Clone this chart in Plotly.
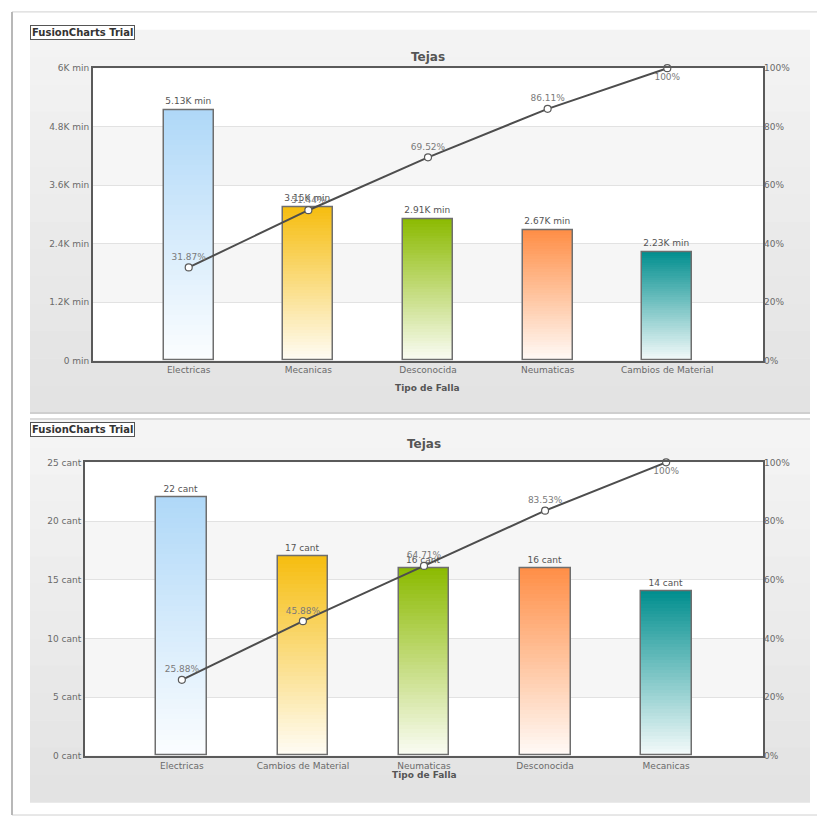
import plotly.graph_objects as go

# ---------------- data ----------------
cats_top = ["Electricas", "Mecanicas", "Desconocida", "Neumaticas", "Cambios de Material"]
vals_top = [5130, 3150, 2910, 2670, 2230]            # minutes
pct_top = [31.87, 51.44, 69.52, 86.11, 100]           # cumulative %

cats_bot = ["Electricas", "Cambios de Material", "Neumaticas", "Desconocida", "Mecanicas"]
vals_bot = [22, 17, 16, 16, 14]                       # count
pct_bot = [25.88, 45.88, 64.71, 83.53, 100]

ytick_top_vals = [0, 1200, 2400, 3600, 4800, 6000]
ytick_top_text = ["0 min", "1.2K min", "2.4K min", "3.6K min", "4.8K min", "6K min"]
ytick_bot_vals = [0, 5, 10, 15, 20, 25]
ytick_bot_text = ["0 cant", "5 cant", "10 cant", "15 cant", "20 cant", "25 cant"]
pct_ticks = [0, 20, 40, 60, 80, 100]

palette = ["#AFD8F8", "#F6BD0F", "#8BBA00", "#FF8E46", "#008E8E"]

W, H = 817, 822
FONT = "DejaVu Sans"


def px(x):
    return x / W


def py(y):
    return 1 - y / H


def hex2rgb(h):
    h = h.lstrip("#")
    return tuple(int(h[i:i + 2], 16) for i in (0, 2, 4))


def mix(c, t):
    # t=1 -> colour, t=0 -> near white
    r, g, b = hex2rgb(c)
    lo = 0.04
    f = lo + (1 - lo) * t
    return "rgb(%d,%d,%d)" % (round(255 + (r - 255) * f), round(255 + (g - 255) * f), round(255 + (b - 255) * f))


fig = go.Figure()
shapes = []
annotations = []

# background frame and panels
shapes.append(dict(type="rect", xref="paper", yref="paper", x0=px(12), x1=px(830), y0=py(820), y1=py(7),
                   line=dict(color="#d0d0d0", width=1), fillcolor="white", layer="below"))
shapes.append(dict(type="line", xref="paper", yref="paper", x0=px(12), x1=px(12), y0=py(820), y1=py(7),
                   line=dict(color="#b8b8b8", width=2), layer="below"))


def panel(y0, y1, c0, c1, n=14):
    a = hex2rgb(c0)
    b = hex2rgb(c1)
    for i in range(n):
        t = i / (n - 1)
        col = "rgb(%d,%d,%d)" % tuple(round(a[k] + (b[k] - a[k]) * t) for k in range(3))
        ya = y0 + (y1 - y0) * i / n
        yb = y0 + (y1 - y0) * (i + 1) / n
        shapes.append(dict(type="rect", xref="paper", yref="paper", x0=px(30), x1=px(810),
                           y0=py(yb + 0.5), y1=py(ya), line=dict(width=0), fillcolor=col, layer="below"))


panel(25, 413, "#f3f3f3", "#e3e3e3")
panel(420, 807, "#f4f4f4", "#e3e3e3")
shapes.append(dict(type="line", xref="paper", yref="paper", x0=px(30), x1=px(810), y0=py(413), y1=py(413),
                   line=dict(color="#cfcfcf", width=2), layer="below"))
shapes.append(dict(type="line", xref="paper", yref="paper", x0=px(30), x1=px(810), y0=py(419), y1=py(419),
                   line=dict(color="#dcdcdc", width=2), layer="below"))

N = 50


def build(cats, vals, pcts, xa, ya, ya2, label_fmt):
    # gradient bars: stacked slices from the data values
    for k in range(N):
        t = (k + 0.5) / N
        fig.add_trace(go.Bar(
            x=cats, y=[v / N for v in vals], base=[v * k / N for v in vals],
            width=0.42, marker=dict(color=[mix(palette[i], t) for i in range(len(vals))], line=dict(width=0)),
            xaxis=xa, yaxis=ya, showlegend=False, hoverinfo="skip"))
    # outline + value labels
    fig.add_trace(go.Bar(
        x=cats, y=vals, width=0.42,
        marker=dict(color="rgba(0,0,0,0)", line=dict(color="#6e6e6e", width=1.5)),
        text=[label_fmt(v) for v in vals], textposition="outside",
        textfont=dict(family=FONT, size=9, color="#555555"), cliponaxis=False,
        xaxis=xa, yaxis=ya, showlegend=False))
    # cumulative line
    fig.add_trace(go.Scatter(
        x=cats, y=pcts, mode="lines+markers+text",
        line=dict(color="#4d4d4d", width=2),
        marker=dict(size=7, color="white", line=dict(color="#5a5a5a", width=1.2)),
        text=[("%g%%" % p) if p == 100 else ("%.2f%%" % p) for p in pcts],
        textposition=["top center"] * (len(pcts) - 1) + ["bottom center"],
        textfont=dict(family=FONT, size=9, color="#7a7a7a"), cliponaxis=False,
        xaxis=xa, yaxis=ya2, showlegend=False))


build(cats_top, vals_top, pct_top, "x", "y", "y2", lambda v: "%.2fK min" % (v / 1000))
build(cats_bot, vals_bot, pct_bot, "x2", "y3", "y4", lambda v: "%d cant" % v)

# white canvas + alternating bands (subplot-referenced so they sit above the panels)
shapes.append(dict(type="rect", xref="x domain", yref="y domain", x0=0, x1=1, y0=0, y1=1,
                   fillcolor="white", line=dict(width=0), layer="below"))
shapes.append(dict(type="rect", xref="x2 domain", yref="y3 domain", x0=0, x1=1, y0=0, y1=1,
                   fillcolor="white", line=dict(width=0), layer="below"))
for y0, y1 in [(1200, 2400), (3600, 4800)]:
    shapes.append(dict(type="rect", xref="x domain", yref="y", x0=0, x1=1, y0=y0, y1=y1,
                       fillcolor="#f6f6f6", line=dict(width=0), layer="below"))
for y0, y1 in [(5, 10), (15, 20)]:
    shapes.append(dict(type="rect", xref="x2 domain", yref="y3", x0=0, x1=1, y0=y0, y1=y1,
                       fillcolor="#f6f6f6", line=dict(width=0), layer="below"))

tickfont = dict(family=FONT, size=9, color="#6a6a6a")
xcommon = dict(type="category", range=[-0.8, 4.8], showgrid=False, zeroline=False, showline=True,
               linecolor="#5a5a5a", linewidth=2, mirror=True, ticks="", tickfont=tickfont, fixedrange=True)
ycommon = dict(showgrid=True, gridcolor="#e2e2e2", gridwidth=1, zeroline=False, showline=True,
               linecolor="#5a5a5a", linewidth=2, mirror=True, ticks="", tickfont=tickfont)

fig.update_layout(
    width=W, height=H, margin=dict(l=0, r=0, t=0, b=0),
    paper_bgcolor="white", plot_bgcolor="white", barmode="overlay", bargap=0,
    showlegend=False,
    xaxis=dict(domain=[px(93), px(763)], anchor="y", **xcommon),
    yaxis=dict(domain=[py(360), py(64)], anchor="x", range=[0, 6000], tickvals=ytick_top_vals,
               ticktext=ytick_top_text, **ycommon),
    yaxis2=dict(overlaying="y", side="right", anchor="x", range=[0, 100], tickvals=pct_ticks,
                ticktext=["%d%%" % t for t in pct_ticks], showgrid=False, zeroline=False, showline=False,
                ticks="", tickfont=tickfont),
    xaxis2=dict(domain=[px(85), px(763)], anchor="y3", **xcommon),
    yaxis3=dict(domain=[py(760), py(463)], anchor="x2", range=[0, 25], tickvals=ytick_bot_vals,
                ticktext=ytick_bot_text, **ycommon),
    yaxis4=dict(overlaying="y3", side="right", anchor="x2", range=[0, 100], tickvals=pct_ticks,
                ticktext=["%d%%" % t for t in pct_ticks], showgrid=False, zeroline=False, showline=False,
                ticks="", tickfont=tickfont),
)

# titles and text
for xc, yc in [(428, 44), (424, 444)]:
    annotations.append(dict(text="<b>Tejas</b>", x=px(xc), y=py(yc), xref="paper", yref="paper",
                            showarrow=False, font=dict(family=FONT, size=12, color="#555555")))
for xc, yc in [(428, 388), (424, 787)]:
    annotations.append(dict(text="<b>Tipo de Falla</b>", x=px(xc), y=py(yc), xref="paper", yref="paper",
                            showarrow=False, font=dict(family=FONT, size=9, color="#555555")))
for yb in [35, 437]:
    annotations.append(dict(text="<b>FusionCharts Trial</b>", x=px(30), y=py(yb), xref="paper", yref="paper",
                            xanchor="left", yanchor="bottom", showarrow=False, bgcolor="white",
                            bordercolor="#555555", borderwidth=1, borderpad=1,
                            font=dict(family=FONT, size=10, color="#333333")))

fig.update_layout(shapes=shapes, annotations=annotations)
fig.write_html("out.html")
